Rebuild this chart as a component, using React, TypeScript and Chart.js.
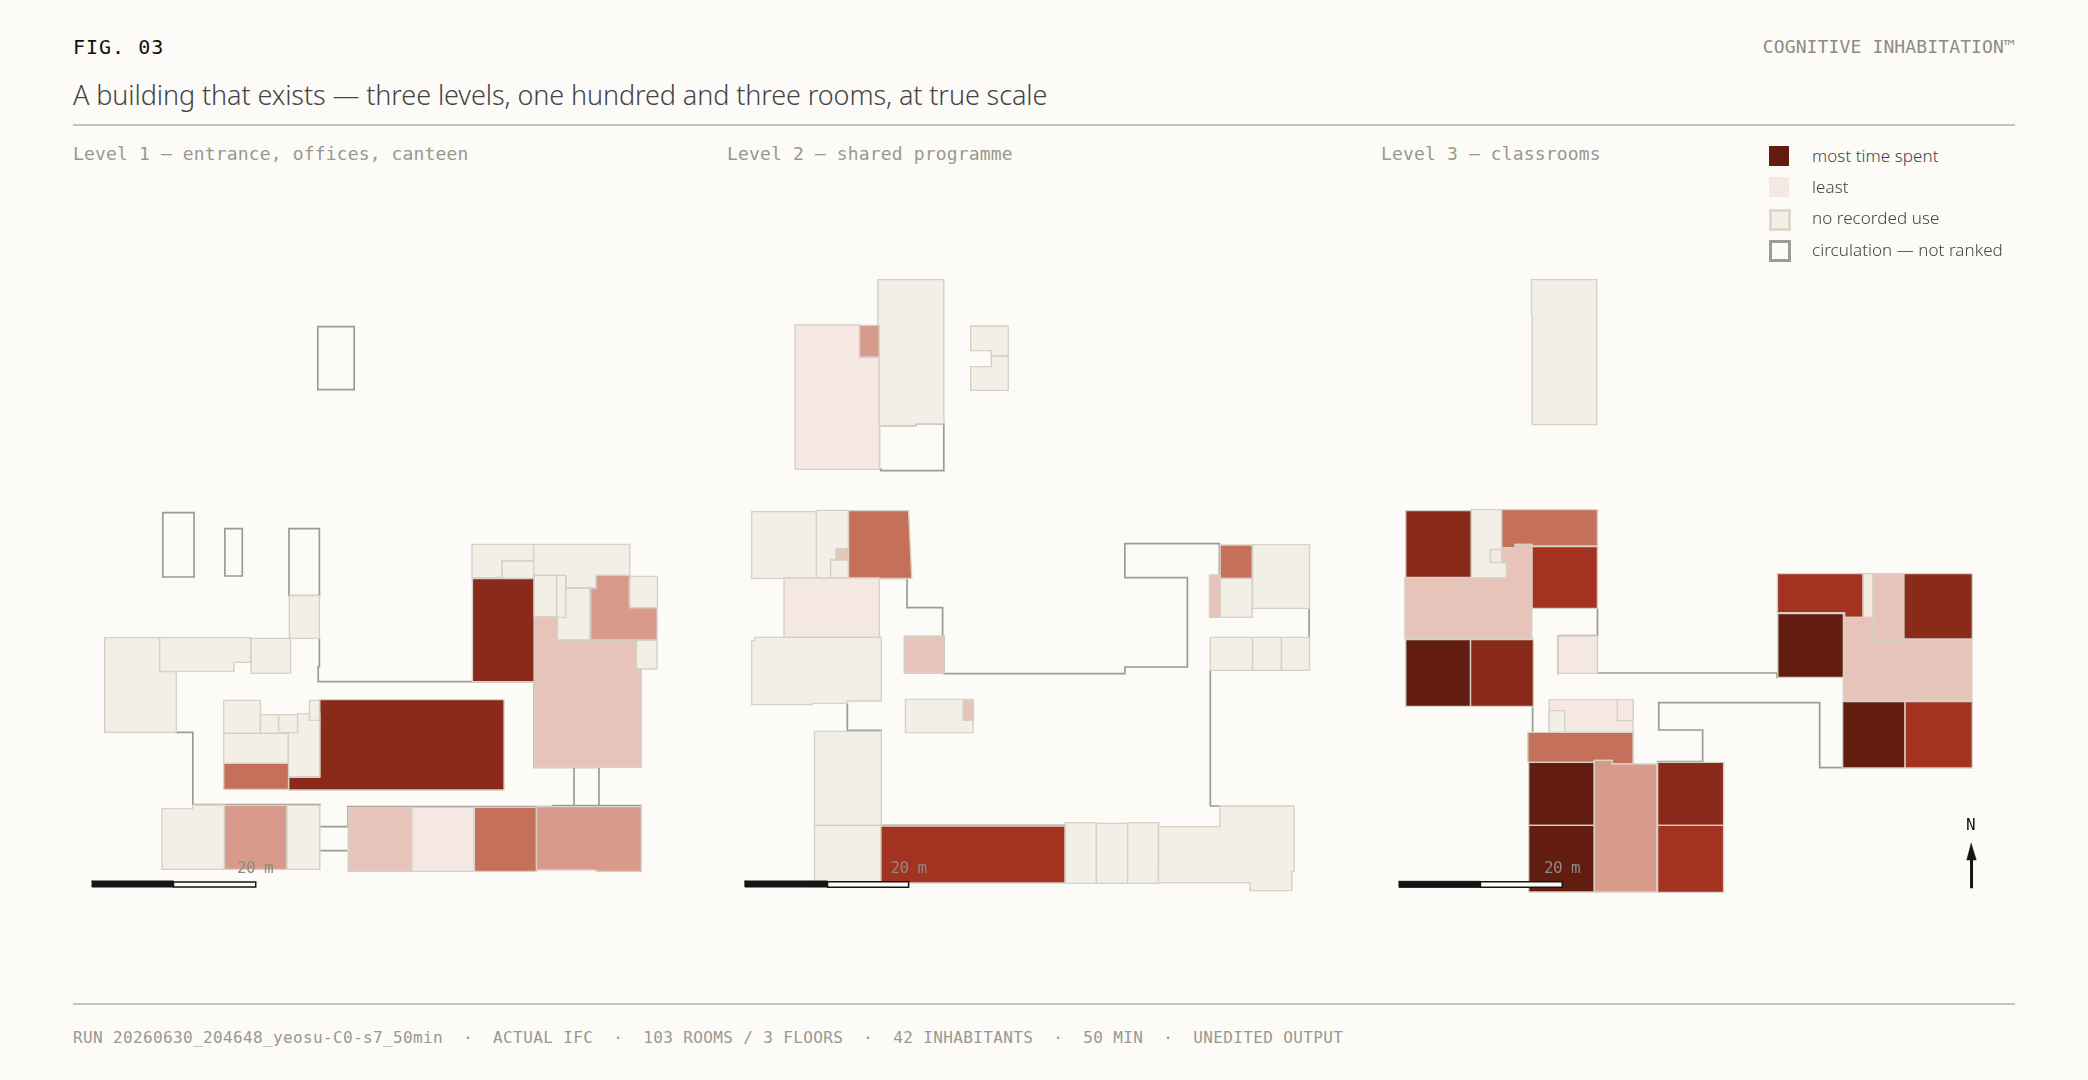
import React, { useEffect, useRef } from "react";
import { Chart, registerables } from "chart.js";

Chart.register(...registerables);

// Plan data. Units are survey units of each level's plan; a room is [rank, ...outline].
// Outline with 4 numbers = rectangle x0,y0,x1,y1; otherwise x,y pairs. rank 0 = no recorded use, 1 = most time, 7 = least.
const level1Rooms: number[][] = [
  [0, 1042,793,1198,793,1198,843,1118,843,1118,893,1042,893],
  [0, 1118,843,1198,895],
  [0, 1198,793,1441,793,1441,886,1356,886,1356,923,1280,923,1280,886,1198,886],
  [6, 1199,1010,1258,1010,1258,1080,1458,1080,1458,1167,1470,1167,1470,1462,1199,1462],
  [2, 1043,896,1199,1205],
  [0, 1258,925,1340,1080],
  [0, 1199,886,1256,1010],
  [0, 1256,886,1279,1012],
  [5, 1342,925,1356,925,1356,886,1440,886,1440,983,1510,983,1510,1080,1342,1080],
  [0, 1441,889,1511,983],
  [0, 1458,1081,1510,1167],
  [0, 113,1073,252,1073,252,1175,294,1175,294,1357,113,1357],
  [0, 252,1073,482,1073,482,1147,440,1147,440,1174,252,1174],
  [0, 483,1075,583,1180],
  [0, 580,947,656,1075],
  [2, 657,1259,1123,1259,1123,1530,578,1530,578,1492,657,1492],
  [0, 414,1261,507,1360],
  [0, 507,1304,553,1360],
  [0, 553,1304,601,1358],
  [0, 601,1301,657,1301,657,1490,577,1490,577,1358,601,1358],
  [0, 631,1261,656,1321],
  [0, 414,1360,577,1450],
  [4, 414,1450,578,1528],
  [0, 258,1586,336,1586,336,1575,416,1575,416,1768,258,1768],
  [5, 416,1576,574,1768],
  [0, 574,1576,657,1768],
  [6, 729,1582,890,1774],
  [7, 890,1582,1048,1774],
  [4, 1048,1582,1205,1774],
  [5, 1205,1580,1470,1580,1470,1774,1356,1774,1356,1770,1205,1770],
];
const level1Circulation: number[][] = [
  [652,140,744,329],
  [260,698,339,891],
  [417,746,461,888],
  [579,746,656,947],
  [656,1077,656,1160,653,1160,653,1205,1199,1205,1199,1462,1300,1462,1300,1577],
  [1363,1462,1363,1577,1247,1577,1247,1580,728,1580,728,1640,658,1640],
  [1300,1462,1363,1462],
  [1363,1577,1470,1577],
  [658,1712,728,1712],
  [657,1574,336,1574,336,1357,294,1357],
];

const level2Rooms: number[][] = [
  [7, 190,195,353,195,353,292,403,292,403,628,190,628],
  [5, 353,196,403,291],
  [0, 399,59,566,59,566,491,495,491,495,497,403,497,403,196,399,196],
  [0, 634,198,729,198,729,287,686,287,686,272,634,272],
  [0, 686,288,729,288,729,391,634,391,634,320,686,320],
  [0, 80,755,244,955],
  [0, 244,751,325,751,325,867,294,867,294,900,280,900,280,953,244,953],
  [6, 294,867,325,900],
  [0, 280,900,325,953],
  [4, 325,752,477,752,485,955,325,955],
  [7, 162,954,403,1132],
  [0, 80,1142,88,1142,88,1132,408,1132,408,1323,322,1323,322,1330,233,1330,233,1334,80,1334],
  [6, 466,1128,566,1240],
  [0, 469,1318,640,1418],
  [6, 615,1321,641,1381],
  [0, 239,1414,408,1696],
  [0, 239,1696,407,1870],
  [3, 407,1698,873,1869],
  [0, 873,1688,952,1870],
  [0, 952,1690,1031,1870],
  [0, 1031,1688,1109,1870],
  [0, 1109,1700,1264,1700,1264,1638,1452,1638,1452,1835,1446,1835,1446,1892,1340,1892,1340,1868,1109,1868],
  [4, 1265,855,1346,955],
  [6, 1238,945,1264,1072],
  [0, 1265,955,1346,1072],
  [0, 1347,854,1491,1045],
  [0, 1240,1132,1347,1231],
  [0, 1347,1132,1420,1231],
  [0, 1420,1132,1491,1231],
];
const level2Circulation: number[][] = [
  [403,497,495,497,495,491,566,491,566,632,407,632,407,628,403,628,403,497],
  [403,955,473,955,473,1043,563,1043,563,1128,566,1128,566,1241,1024,1241,1024,1221,1182,1221,1182,953,1024,953,1024,851,1263,851,1263,945],
  [1240,1232,1240,1638,1264,1638],
  [408,1696,873,1696],
  [322,1330,322,1411,407,1411],
  [1490,1047,1490,1130],
];

const level3Rooms: number[][] = [
  [0, 383,-631,548,-631,548,-196,385,-196,385,-525,383,-525],
  [2, 65,62,231,262],
  [0, 231,59,308,59,308,218,320,218,320,264,231,264],
  [7, 279,178,308,218],
  [4, 308,59,550,59,550,168,384,168,384,163,342,163,342,173,308,173],
  [3, 384,170,550,355],
  [6, 63,262,320,264,320,218,308,218,308,173,342,173,342,163,384,163,384,446,63,446],
  [1, 65,449,229,649],
  [2, 229,449,388,649],
  [7, 451,438,550,550],
  [3, 1005,251,1222,251,1222,382,1175,382,1175,368,1005,368],
  [7, 1222,251,1247,382],
  [6, 1172,382,1247,382,1247,451,1325,451,1325,448,1497,448,1497,632,1172,632],
  [6, 1247,251,1325,451],
  [2, 1325,251,1498,447],
  [1, 1006,371,1172,562],
  [1, 1170,635,1328,834],
  [3, 1328,635,1498,834],
  [7, 428,629,640,727],
  [0, 428,662,467,727],
  [7, 600,629,640,692],
  [4, 374,727,640,727,640,822,587,822,587,811,542,811,542,817,374,817],
  [1, 376,817,542,1006],
  [1, 376,1006,542,1206],
  [5, 542,811,587,811,587,822,700,822,700,1206,542,1206],
  [2, 702,817,869,1006],
  [3, 702,1006,869,1207],
];
const level3Circulation: number[][] = [
  [550,355,550,437,451,437,451,550],
  [550,549,1004,549,1004,562],
  [386,649,386,727],
  [816,815,816,720,705,720,705,638,1112,638,1112,833,1170,833],
  [702,815,816,815],
];

// scale bars: 20 m split in two, black part then open part
const level1Bar = [[81,1803,287,1821],[287,1806,495,1821]];
const level2Bar = [[63,1863,272,1881],[272,1865,477,1882]];
const level3Bar = [[48,1174,254,1192],[254,1175,461,1192]];

// north arrow, level 3 plan units
const northShaft = [1496,1190,1496,1110];
const northHead = [1495,1060,1508,1110,1484,1110,1495,1060];

const rankColors = ["#f1efe6","#621c10","#8a2a1a","#a33220","#c4705a","#d89a8a","#e6c4ba","#f5e8e3"];
const levelTitles = ["Level 1 — entrance, offices, canteen","Level 2 — shared programme","Level 3 — classrooms"];
const legendLabels = ["most time spent","least","no recorded use","circulation — not ranked"];
const footerText = "RUN 20260630_204648_yeosu-C0-s7_50min  ·  ACTUAL IFC  ·  103 ROOMS / 3 FLOORS  ·  42 INHABITANTS  ·  50 MIN  ·  UNEDITED OUTPUT";

const MONO = '"DejaVu Sans Mono", monospace';
const SANS = '"Noto Sans", sans-serif';
const BG = "#fcfbf7";
const ROOM_STROKE = "#d5d1c5";
const CIRC_STROKE = "#9b9c94";
const INK = "#151515";

function outline(c: number[]) {
  const p = c.length === 4 ? [c[0],c[1],c[2],c[1],c[2],c[3],c[0],c[3],c[0],c[1]] : c;
  const pts: {x:number;y:number}[] = [];
  for (let i = 0; i < p.length; i += 2) pts.push({ x: p[i], y: p[i+1] });
  return pts;
}
function closed(c: number[]) {
  const pts = outline(c);
  if (c.length !== 4) pts.push(pts[0]);
  return pts;
}
function line(data: any[], extra: any) {
  return { data, showLine: true, pointRadius: 0, pointHoverRadius: 0, tension: 0, clip: false,
    borderCapStyle: "square", borderJoinStyle: "miter", ...extra };
}

function Plan({ rooms, circulation, bar, north, left, top, w, h, yMin }: any) {
  const ref = useRef<HTMLCanvasElement>(null);
  useEffect(() => {
    const datasets: any[] = [];
    for (const c of circulation) datasets.push(line(outline(c), { fill: false, borderColor: CIRC_STROKE, borderWidth: 1.7 }));
    for (const r of rooms) {
      const [rank, ...c] = r;
      datasets.push(line(closed(c), { fill: "shape", backgroundColor: rankColors[rank], borderColor: ROOM_STROKE, borderWidth: 1.4 }));
    }
    datasets.push(line(closed(bar[0]), { fill: "shape", backgroundColor: INK, borderColor: INK, borderWidth: 1 }));
    datasets.push(line(closed(bar[1]), { fill: "shape", backgroundColor: BG, borderColor: INK, borderWidth: 1.5 }));
    if (north) {
      datasets.push(line(outline(northShaft), { fill: false, borderColor: INK, borderWidth: 3 }));
      datasets.push(line(outline(northHead), { fill: "shape", backgroundColor: INK, borderColor: INK, borderWidth: 0.5 }));
    }
    datasets.reverse();
    const chart = new Chart(ref.current!, {
      type: "scatter",
      data: { datasets },
      options: {
        animation: false, responsive: false, events: [],
        layout: { padding: 0 },
        plugins: { legend: { display: false }, tooltip: { enabled: false } },
        scales: {
          x: { type: "linear", display: false, min: 0, max: w * (1568 / 620) },
          y: { type: "linear", display: false, reverse: true, min: yMin, max: yMin + h * 3 },
        },
      },
    });
    return () => chart.destroy();
  }, []);
  return <canvas ref={ref} width={w} height={h} style={{ position: "absolute", left, top, width: w, height: h, display: "block" }} />;
}

function T({ x, y, right, size, color, font, spacing, weight, children }: any) {
  const pos: any = right !== undefined ? { right } : { left: x };
  return (
    <div style={{ position: "absolute", top: y, ...pos, transform: "translateY(-50%)", fontFamily: font, fontSize: size, fontWeight: weight,
      color, letterSpacing: spacing, whiteSpace: "pre", lineHeight: 1.2 }}>{children}</div>
  );
}

export default function App() {
  useEffect(() => {
    document.body.style.margin = "0";
    document.body.style.background = BG;
  }, []);
  const swatches = [
    { left: 1769, top: 146, size: 20, background: rankColors[1], border: "none" },
    { left: 1769, top: 177, size: 20, background: rankColors[7], border: "none" },
    { left: 1768.5, top: 208.5, size: 22, background: rankColors[0], border: `3px solid #dcd8cc` },
    { left: 1768.5, top: 239.5, size: 22, background: BG, border: `3px solid ${CIRC_STROKE}` },
  ];
  return (
    <div style={{ position: "relative", width: 2088, height: 1080, background: BG, overflow: "hidden" }}>
      <T x={73} y={46.5} size={20} color="#111" font={MONO} spacing="1px">FIG. 03</T>
      <T right={73} y={46.5} size={18} color="#8c8c84" font={MONO} spacing="0.13px">COGNITIVE INHABITATION™</T>
      <T x={73} y={95} size={27} color="#444" font={SANS} weight={300} spacing="-0.1px">A building that exists — three levels, one hundred and three rooms, at true scale</T>
      <div style={{ position: "absolute", left: 73, width: 1942, top: 124, height: 1.5, background: "#c9c4b8" }} />
      {levelTitles.map((t, i) => (
        <T key={t} x={73 + 654 * i} y={154} size={18} color="#98988f" font={MONO} spacing="0.15px">{t}</T>
      ))}
      <Plan rooms={level1Rooms} circulation={level1Circulation} bar={level1Bar} left={60} top={280} w={620} h={640} yMin={0} />
      <Plan rooms={level2Rooms} circulation={level2Circulation} bar={level2Bar} left={720} top={260} w={620} h={660} yMin={0} />
      <Plan rooms={level3Rooms} circulation={level3Circulation} bar={level3Bar} north left={1380} top={260} w={620} h={660} yMin={-690} />
      {[237, 890.5, 1544].map((x) => (
        <T key={x} x={x} y={867.5} size={16} color="#8c8c84" font={MONO} spacing="-0.6px">20 m</T>
      ))}
      <T x={1966} y={825} size={16} color={INK} font={MONO}>N</T>
      {swatches.map((s, i) => (
        <div key={i} style={{ position: "absolute", left: s.left, top: s.top, width: s.size, height: s.size, background: s.background, border: s.border, boxSizing: "border-box" }} />
      ))}
      {legendLabels.map((t, i) => (
        <T key={t} x={1812} y={156 + 31.2 * i} size={17} color="#444" font={SANS} weight={300} spacing="0.06px">{t}</T>
      ))}
      <div style={{ position: "absolute", left: 73, width: 1942, top: 1003, height: 1.5, background: "#c9c4b8" }} />
      <T x={73} y={1038} size={16} color="#98988f" font={MONO} spacing="0.37px">{footerText}</T>
    </div>
  );
}
